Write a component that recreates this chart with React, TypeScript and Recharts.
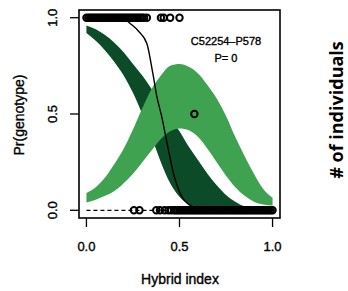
import { ComposedChart, Area, Line, Scatter, XAxis, YAxis } from 'recharts'

// hybrid index grid for the two credible bands
const hybridIndex = [0, 0.05, 0.1, 0.15, 0.2, 0.25, 0.3, 0.35, 0.4, 0.45, 0.5, 0.55, 0.6, 0.65, 0.7, 0.75, 0.8, 0.85, 0.9, 0.95, 1]
const homoHi = [0.96, 0.94, 0.91, 0.87, 0.82, 0.76, 0.7, 0.63, 0.56, 0.48, 0.41, 0.33, 0.26, 0.19, 0.13, 0.08, 0.045, 0.02, 0.008, 0.003, 0]
const homoLo = [0.92, 0.88, 0.83, 0.77, 0.7, 0.61, 0.5, 0.38, 0.25, 0.14, 0.07, 0.03, 0.01, 0.003, 0, 0, 0, 0, 0, 0, 0]
const hetHi = [0.09, 0.12, 0.17, 0.24, 0.32, 0.42, 0.53, 0.63, 0.7, 0.75, 0.76, 0.745, 0.71, 0.65, 0.58, 0.49, 0.38, 0.28, 0.19, 0.11, 0.065]
const hetLo = [0.04, 0.055, 0.075, 0.1, 0.14, 0.19, 0.25, 0.31, 0.37, 0.41, 0.425, 0.415, 0.38, 0.32, 0.25, 0.18, 0.12, 0.075, 0.045, 0.03, 0.025]

// observed cline (solid) and dashed line
const clineX = [0, 0.1, 0.2, 0.236, 0.28, 0.325, 0.357, 0.379, 0.405, 0.423, 0.441, 0.468, 0.504, 0.557, 0.62, 0.7, 0.85, 1]
const clineY = [1, 1, 0.995, 0.969, 0.93, 0.865, 0.709, 0.588, 0.484, 0.398, 0.311, 0.19, 0.087, 0.026, 0.008, 0.002, 0, 0]
const dashX = [0, 1]
const dashY = [0, 0]

// individuals by genotype (hybrid index)
const topInds = [0, 0.01, 0.02, 0.03, 0.04, 0.05, 0.06, 0.07, 0.08, 0.09, 0.1, 0.11, 0.12, 0.13, 0.14, 0.15, 0.16, 0.17, 0.18, 0.19, 0.2, 0.21, 0.22, 0.23, 0.24, 0.25, 0.26, 0.27, 0.28, 0.29, 0.3, 0.31, 0.325, 0.4, 0.415, 0.45, 0.5]
const midInds = [0.58]
const lowInds = [0.255, 0.285, 0.375, 0.395, 0.42, 0.44, 0.455, 0.47, 0.48, 0.49, 0.5, 0.51, 0.52, 0.53, 0.54, 0.55, 0.56, 0.57, 0.58, 0.59, 0.6, 0.61, 0.62, 0.63, 0.64, 0.65, 0.66, 0.67, 0.68, 0.69, 0.7, 0.71, 0.72, 0.73, 0.74, 0.75, 0.76, 0.77, 0.78, 0.79, 0.8, 0.81, 0.82, 0.83, 0.84, 0.85, 0.86, 0.87, 0.88, 0.89, 0.9, 0.91, 0.92, 0.93, 0.94, 0.95, 0.96, 0.97, 0.98, 0.99, 1]

const ticks = [0, 0.5, 1]
const tickLabels = ['0.0', '0.5', '1.0']
const countLabels = ['640', '1', '595']

const DARK = '#0c4b28'
const LIGHT = '#3ea251'
const FONT = '"Liberation Sans", Arial, sans-serif'
// slight outline to get the heavy look of the original raster text
const heavy = { stroke: '#000', strokeWidth: 0.35 }

const bandData = hybridIndex.map((h, i) => ({ h, homo: [homoLo[i], homoHi[i]], het: [hetLo[i], hetHi[i]] }))
const clineData = clineX.map((h, i) => ({ h, p: clineY[i] }))
const dashData = dashX.map((h, i) => ({ h, p: dashY[i] }))
const dotData = [
  ...topInds.map(h => ({ h, p: 1 })),
  ...midInds.map(h => ({ h, p: 0.5 })),
  ...lowInds.map(h => ({ h, p: 0 })),
]

const label = (v: number) => tickLabels[ticks.indexOf(v)]

const XTick = ({ x, payload }: any) => (
  <text x={x} y={251} textAnchor="middle" fontSize={13} fontFamily={FONT} fill="#000" {...heavy}>{label(payload.value)}</text>
)
const LeftTick = ({ y, payload }: any) => (
  <text x={57} y={y} transform={`rotate(-90, 57, ${y})`} textAnchor="middle" fontSize={13} fontFamily={FONT} fill="#000" {...heavy}>
    {label(payload.value)}
  </text>
)
const RightTick = ({ y, payload }: any) => (
  <text x={296} y={y} dy={2.5} fontSize={7} fontWeight="bold" fontFamily={FONT} fill="#000">
    {countLabels[ticks.indexOf(payload.value)]}
  </text>
)

const Ring = (props: any) => (
  <circle cx={props.cx} cy={props.cy} r={3.2} fill="none" stroke="#000" strokeWidth={2} />
)

export default function App() {
  return (
    <div style={{ position: 'absolute', left: 0, top: 0, width: 348, height: 291, background: '#fff' }}>
      <ComposedChart width={348} height={291} data={bandData} margin={{ top: 10, right: 0, bottom: 0, left: 0 }}>
        <XAxis dataKey="h" type="number" domain={[-0.04, 1.04]} ticks={ticks} interval={0} height={73}
          axisLine={false} tickSize={9} tickLine={{ stroke: '#000', strokeWidth: 1.3 }} tick={<XTick />} />
        <YAxis yAxisId="left" type="number" domain={[-0.04, 1.04]} ticks={ticks} interval={0} width={79}
          axisLine={false} tickSize={9} tickLine={{ stroke: '#000', strokeWidth: 1.3 }} tick={<LeftTick />} />
        <YAxis yAxisId="right" orientation="right" type="number" domain={[-0.04, 1.04]} ticks={ticks} interval={0} width={68}
          axisLine={false} tickSize={8} tickLine={{ stroke: '#000', strokeWidth: 1.3 }} tick={<RightTick />} />
        <Area yAxisId="left" dataKey="homo" type="monotone" fill={DARK} fillOpacity={1} stroke="none"
          dot={false} activeDot={false} isAnimationActive={false} />
        <Area yAxisId="left" dataKey="het" type="monotone" fill={LIGHT} fillOpacity={1} stroke="none"
          dot={false} activeDot={false} isAnimationActive={false} />
        <Line yAxisId="left" data={dashData} dataKey="p" stroke="#000" strokeWidth={1.2} strokeDasharray="4 3"
          dot={false} activeDot={false} isAnimationActive={false} />
        <Line yAxisId="left" data={clineData} dataKey="p" type="monotone" stroke="#000" strokeWidth={1.4}
          dot={false} activeDot={false} isAnimationActive={false} />
        <Scatter yAxisId="left" data={dotData} dataKey="p" shape={<Ring />} isAnimationActive={false} />
      </ComposedChart>
      <svg width={348} height={291} style={{ position: 'absolute', left: 0, top: 0, pointerEvents: 'none' }}>
        <rect x={79} y={10} width={201} height={208} fill="none" stroke="#000" strokeWidth={1.6} />
        <text x={226} y={45} textAnchor="middle" fontSize={11} fontFamily={FONT} fill="#000" {...heavy}>C52254–P578</text>
        <text x={226} y={62} textAnchor="middle" fontSize={11} fontFamily={FONT} fill="#000" {...heavy}>P= 0</text>
        <text x={180} y={284} textAnchor="middle" fontSize={14} fontFamily={FONT} fill="#000" {...heavy}>Hybrid index</text>
        <text x={24} y={115} transform="rotate(-90, 24, 115)" textAnchor="middle" fontSize={14} fontFamily={FONT} fill="#000" {...heavy}>Pr(genotype)</text>
        <text x={343} y={110} transform="rotate(-90, 343, 110)" textAnchor="middle" fontSize={18} fontWeight={700}
          fontFamily='"Open Sans", "Noto Sans", sans-serif' fill="#000"># of individuals</text>
      </svg>
    </div>
  )
}
